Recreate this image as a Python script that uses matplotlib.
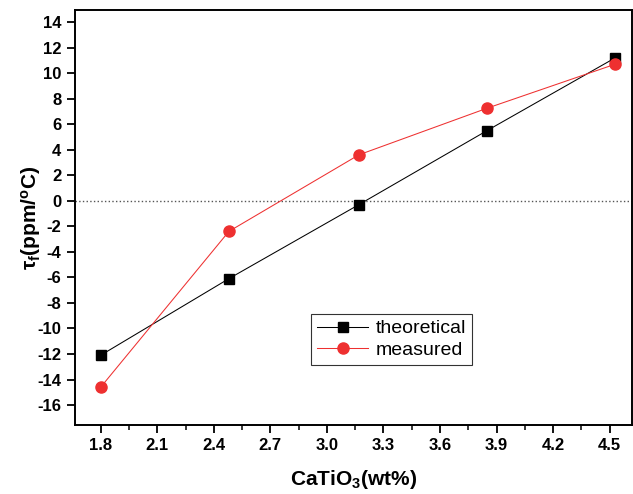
import matplotlib
matplotlib.use("Agg")
import matplotlib.pyplot as plt
from matplotlib.ticker import MultipleLocator

plt.rcParams['font.family'] = ['Liberation Sans', 'DejaVu Sans']
plt.rcParams['mathtext.fontset'] = 'custom'
plt.rcParams['mathtext.rm'] = 'Liberation Sans:bold'
plt.rcParams['mathtext.it'] = 'Liberation Sans:bold'
plt.rcParams['mathtext.bf'] = 'Liberation Sans:bold'

x_vals = [1.8, 2.48, 3.17, 3.85, 4.53]
theoretical = [-12.1, -6.1, -0.3, 5.5, 11.2]
measured = [-14.6, -2.4, 3.6, 7.25, 10.7]
x_ticks = [1.8, 2.1, 2.4, 2.7, 3.0, 3.3, 3.6, 3.9, 4.2, 4.5]
y_ticks = list(range(-16, 15, 2))

fig = plt.figure(figsize=(6.33, 4.94), dpi=100)
ax = fig.add_axes([0.118, 0.14, 0.88, 0.84])

ax.axhline(0, color='#555555', linestyle=':', linewidth=1.0, zorder=1)
ax.plot(x_vals, theoretical, color='black', linewidth=0.75, marker='s',
        markersize=7.2, markerfacecolor='black', markeredgecolor='black',
        label='theoretical', zorder=3)
ax.plot(x_vals, measured, color='#ee3030', linewidth=0.75, marker='o',
        markersize=8, markerfacecolor='#ee3030', markeredgecolor='#ee3030',
        label='measured', zorder=4)

ax.set_xlim(1.662, 4.617)
ax.set_ylim(-17.55, 14.95)
ax.set_xticks(x_ticks)
ax.set_xticklabels([f"{t:.1f}" for t in x_ticks])
ax.xaxis.set_minor_locator(MultipleLocator(0.15))
ax.set_yticks(y_ticks)
ax.set_yticklabels([str(t) for t in y_ticks])

ax.tick_params(axis='both', which='major', direction='out', length=6, width=1.3,
               labelsize=12)
ax.tick_params(axis='x', which='minor', direction='out', length=3.5, width=1.1)
for lab in ax.get_xticklabels() + ax.get_yticklabels():
    lab.set_fontweight('bold')
for s in ax.spines.values():
    s.set_linewidth(1.4)

ax.set_xlabel(r'CaTiO$_3$(wt%)', fontsize=15, fontweight='bold', labelpad=11)
ax.set_ylabel(r'$\tau_f$(ppm/$^o$C)', fontsize=15, fontweight='bold', labelpad=-4)

leg = ax.legend(loc='lower left', bbox_to_anchor=(0.425, 0.145), fontsize=14,
                frameon=True, fancybox=False, edgecolor='black',
                borderpad=0.3, handlelength=2.6, handletextpad=0.4,
                labelspacing=0.2, borderaxespad=0)
leg.get_frame().set_linewidth(0.8)

fig.savefig('out.png', dpi=100)
